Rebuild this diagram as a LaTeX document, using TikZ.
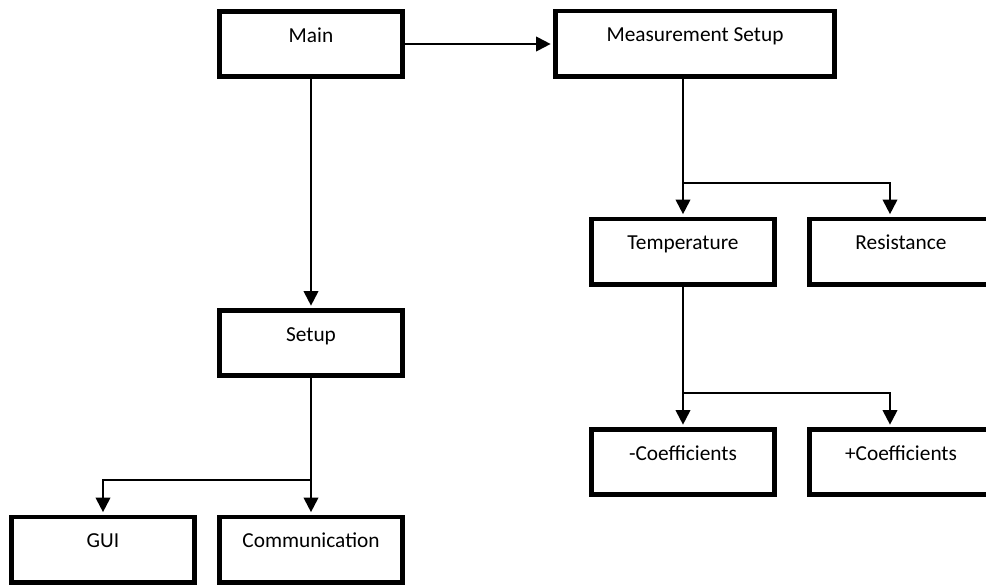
\documentclass[tikz,border=0pt]{standalone}
\usepackage{fontspec}
\setmainfont{Carlito}
\usetikzlibrary{positioning,arrows.meta,calc}

\tikzset{
  box/.style={draw, line width=3.5pt, minimum width=137.5pt, minimum height=49pt,
    inner sep=0pt, text height=11pt, text depth=13.5pt,
    font=\fontsize{16pt}{19pt}\selectfont},
  link/.style={line width=1.5pt, shorten >=1.75pt, -{Triangle[length=11pt,width=11pt]}}
}

\begin{document}
\begin{tikzpicture}[x=0.75pt,y=-0.75pt]
  \useasboundingbox (0,0) rectangle (986,586);

  % left column
  \node[box] (main) at (311,44) {Main};
  \node[box] (setup) at (311,343) {Setup};
  \foreach \name/\x/\txt in {gui/103/GUI, comm/311/Communication} {
    \node[box] (\name) at (\x,549.5) {\txt};
  }

  % right column
  \node[box, minimum width=209.5pt] (meas) at (695,43.5) {Measurement Setup};
  \foreach \name/\x/\y/\txt in {temp/683/251.5/Temperature, res/901/251.5/Resistance,
    minus/683/462/-Coefficients, plus/901/462/+Coefficients} {
    \node[box] (\name) at (\x,\y) {\txt};
  }

  \coordinate (fork1) at (311,480);
  \coordinate (fork2) at (683,183);
  \coordinate (fork3) at (683,393);

  \draw[link] (main.east) -- (main.east -| meas.west);
  \draw[link] (main.south) -- (setup.north);
  \draw[link] (setup.south) -- (comm.north);
  \draw[link] (fork1) -| (gui.north);
  \draw[link] (fork2 |- meas.south) -- (temp.north);
  \draw[link] (fork2) -| ($(res.north)+(-11,0)$);
  \draw[link] (temp.south) -- (minus.north);
  \draw[link] (fork3) -| ($(plus.north)+(-11,0)$);
\end{tikzpicture}
\end{document}
